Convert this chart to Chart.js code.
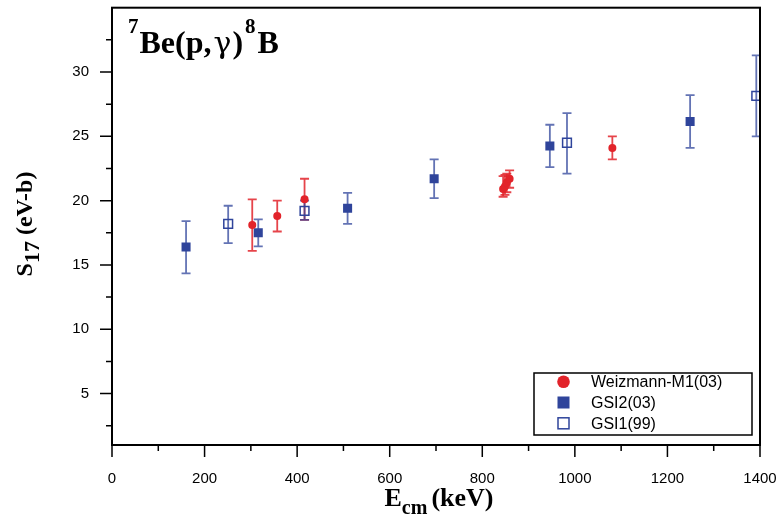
<!DOCTYPE html>
<html>
<head>
<meta charset="utf-8">
<script src="https://cdn.jsdelivr.net/npm/chart.js@4.4.1/dist/chart.umd.min.js"></script>
<style>
  html, body { margin: 0; padding: 0; background: #fff; }
  #wrap { width: 776px; height: 518px; }
</style>
</head>
<body>
<div id="wrap"><canvas id="s17-chart"></canvas></div>
<script>
// Weizmann-M1(03)
const weizE  = [303, 357, 416, 845, 849, 853, 859, 1081];
const weizS  = [18.1, 18.8, 20.1, 20.9, 21.1, 21.4, 21.7, 24.1];
const weizLo = [16.1, 17.6, 18.5, 20.3, 20.45, 20.65, 21.0, 23.2];
const weizHi = [20.1, 20.0, 21.7, 21.9, 22.0, 22.1, 22.35, 25.0];

// GSI2(03)
const gsi2E  = [160, 316, 509, 696, 946, 1249];
const gsi2S  = [16.4, 17.5, 19.4, 21.7, 24.25, 26.15];
const gsi2Lo = [14.35, 16.45, 18.2, 20.2, 22.6, 24.1];
const gsi2Hi = [18.4, 18.55, 20.6, 23.2, 25.9, 28.2];

// GSI1(99)
const gsi1E  = [251, 416, 983, 1392];
const gsi1S  = [18.2, 19.2, 24.5, 28.15];
const gsi1Lo = [16.7, 18.5, 22.1, 25.0];
const gsi1Hi = [19.6, 20.0, 26.8, 31.3];

// ticks
const xMajor = [0, 200, 400, 600, 800, 1000, 1200, 1400];
const xMinor = [100, 300, 500, 700, 900, 1100, 1300];
const yMajor = [5, 10, 15, 20, 25, 30];
const yMinor = [2.5, 7.5, 12.5, 17.5, 22.5, 27.5, 32.5];

const RED = "#e2232a";
const BLUE = "#2f449b";
const SERIF = '"Liberation Serif", "Times New Roman", serif';
const SANS = '"Liberation Sans", Arial, Helvetica, sans-serif';

function toPoints(xs, ys) {
    return xs.map((x, i) => ({ x: x, y: ys[i] }));
}

function drawRuns(ctx, x, y, runs) {
    runs.forEach((r) => {
        ctx.font = r.font;
        ctx.fillText(r.text, x, y + (r.dy || 0));
        x += ctx.measureText(r.text).width + (r.gap || 0);
    });
}

function runsWidth(ctx, runs) {
    let w = 0;
    runs.forEach((r) => {
        ctx.font = r.font;
        w += ctx.measureText(r.text).width + (r.gap || 0);
    });
    return w;
}

// chart.js adds label padding around the area; the frame here is fixed, so drop it
function noPad(scale) {
    scale.paddingTop = 0;
    scale.paddingBottom = 0;
    scale.paddingLeft = 0;
    scale.paddingRight = 0;
}

const decor = {
    id: "decor",
    beforeDatasetsDraw(chart) {
        const ctx = chart.ctx;
        const xs = chart.scales.x;
        const ys = chart.scales.y;
        ctx.save();
        chart.data.datasets.forEach((ds) => {
            ctx.strokeStyle = ds.errColor;
            ctx.lineWidth = 1.8;
            ds.data.forEach((p, i) => {
                const px = xs.getPixelForValue(p.x);
                const top = ys.getPixelForValue(ds.errHi[i]);
                const bot = ys.getPixelForValue(ds.errLo[i]);
                ctx.beginPath();
                ctx.moveTo(px, top);
                ctx.lineTo(px, bot);
                ctx.moveTo(px - 4.5, top);
                ctx.lineTo(px + 4.5, top);
                ctx.moveTo(px - 4.5, bot);
                ctx.lineTo(px + 4.5, bot);
                ctx.stroke();
            });
        });
        ctx.restore();
    },
    afterDraw(chart) {
        const ctx = chart.ctx;
        const a = chart.chartArea;
        const xs = chart.scales.x;
        const ys = chart.scales.y;
        ctx.save();

        // frame
        ctx.strokeStyle = "#000";
        ctx.lineWidth = 2;
        ctx.strokeRect(a.left, a.top, a.right - a.left, a.bottom - a.top);

        // tick marks
        ctx.lineWidth = 1.5;
        ctx.beginPath();
        xMajor.forEach((v) => {
            const px = xs.getPixelForValue(v);
            ctx.moveTo(px, a.bottom);
            ctx.lineTo(px, a.bottom + 12);
        });
        xMinor.forEach((v) => {
            const px = xs.getPixelForValue(v);
            ctx.moveTo(px, a.bottom);
            ctx.lineTo(px, a.bottom + 6);
        });
        yMajor.forEach((v) => {
            const py = ys.getPixelForValue(v);
            ctx.moveTo(a.left, py);
            ctx.lineTo(a.left - 12, py);
        });
        yMinor.forEach((v) => {
            const py = ys.getPixelForValue(v);
            ctx.moveTo(a.left, py);
            ctx.lineTo(a.left - 6, py);
        });
        ctx.stroke();

        ctx.fillStyle = "#000";
        ctx.textBaseline = "alphabetic";
        ctx.textAlign = "left";

        // reaction label
        drawRuns(ctx, 128, 53, [
            { text: "7", font: "bold 21px " + SERIF, dy: -20, gap: 1 },
            { text: "Be(p,", font: "bold 32px " + SERIF, gap: 2 },
            { text: "γ", font: "30px \"DejaVu Serif\", serif", gap: 1 },
            { text: ")", font: "bold 32px " + SERIF, gap: 2 },
            { text: "8", font: "bold 21px " + SERIF, dy: -20, gap: 2 },
            { text: "B", font: "bold 32px " + SERIF },
        ]);

        // x title
        const xRuns = [
            { text: "E", font: "bold 26px " + SERIF },
            { text: "cm", font: "bold 20px " + SERIF, dy: 8, gap: 4 },
            { text: "(keV)", font: "bold 26px " + SERIF },
        ];
        drawRuns(ctx, 439 - runsWidth(ctx, xRuns) / 2, 506, xRuns);

        // y title
        const yRuns = [
            { text: "S", font: "bold 24px " + SERIF },
            { text: "17", font: "bold 22px " + SERIF, dy: 7, gap: 6 },
            { text: "(eV-b)", font: "bold 24px " + SERIF },
        ];
        ctx.save();
        ctx.translate(32, 224);
        ctx.rotate(-Math.PI / 2);
        drawRuns(ctx, -runsWidth(ctx, yRuns) / 2, 0, yRuns);
        ctx.restore();

        // legend
        ctx.lineWidth = 1.5;
        ctx.strokeStyle = "#000";
        ctx.strokeRect(534, 373, 218, 62);
        ctx.font = "16px " + SANS;
        ctx.textBaseline = "middle";
        const rows = [381.7, 402.5, 423.3];
        chart.data.datasets.forEach((ds, i) => {
            const cy = rows[i];
            const cx = 563.5;
            ctx.fillStyle = "#000";
            ctx.fillText(ds.label, 591, cy + 1);
            if (ds.pointStyle === "circle") {
                ctx.fillStyle = ds.backgroundColor;
                ctx.beginPath();
                ctx.arc(cx, cy, 6.3, 0, Math.PI * 2);
                ctx.fill();
            } else if (ds.backgroundColor !== "transparent") {
                ctx.fillStyle = ds.backgroundColor;
                ctx.fillRect(cx - 6, cy - 6, 12, 12);
            } else {
                ctx.strokeStyle = ds.borderColor;
                ctx.lineWidth = 1.5;
                ctx.strokeRect(cx - 5.5, cy - 5.5, 11, 11);
            }
        });

        ctx.restore();
    },
};

const ctxS17 = document.querySelector("#s17-chart").getContext("2d");

const chartS17 = new Chart(ctxS17, {
    type: "scatter",
    data: {
        datasets: [
            {
                label: "Weizmann-M1(03)",
                data: toPoints(weizE, weizS),
                errLo: weizLo,
                errHi: weizHi,
                errColor: "rgba(226, 35, 42, 0.85)",
                pointStyle: "circle",
                pointRadius: 4,
                backgroundColor: RED,
                borderColor: RED,
                borderWidth: 0,
            },
            {
                label: "GSI2(03)",
                data: toPoints(gsi2E, gsi2S),
                errLo: gsi2Lo,
                errHi: gsi2Hi,
                errColor: "rgba(47, 68, 155, 0.75)",
                pointStyle: "rect",
                pointRadius: 6.4,
                backgroundColor: BLUE,
                borderColor: BLUE,
                borderWidth: 0,
            },
            {
                label: "GSI1(99)",
                data: toPoints(gsi1E, gsi1S),
                errLo: gsi1Lo,
                errHi: gsi1Hi,
                errColor: "rgba(47, 68, 155, 0.75)",
                pointStyle: "rect",
                pointRadius: 6.2,
                backgroundColor: "transparent",
                borderColor: BLUE,
                borderWidth: 1.5,
            },
        ],
    },
    options: {
        responsive: true,
        maintainAspectRatio: false,
        animation: false,
        layout: {
            padding: { left: 0, right: 16, top: 5, bottom: 0 },
        },
        scales: {
            x: {
                type: "linear",
                min: 0,
                max: 1400,
                grid: { display: false, drawTicks: false },
                border: { display: false },
                ticks: {
                    color: "#000",
                    padding: 25,
                    maxRotation: 0,
                    font: { family: SANS, size: 15 },
                    callback: (v) => String(v),
                },
                afterBuildTicks: (scale) => {
                    scale.ticks = xMajor.map((v) => ({ value: v }));
                },
                afterFit: (scale) => {
                    scale.height = 73;
                    noPad(scale);
                },
            },
            y: {
                type: "linear",
                min: 1,
                max: 35,
                grid: { display: false, drawTicks: false },
                border: { display: false },
                ticks: {
                    color: "#000",
                    padding: 23,
                    font: { family: SANS, size: 15 },
                    callback: (v) => String(v),
                },
                afterBuildTicks: (scale) => {
                    scale.ticks = yMajor.map((v) => ({ value: v }));
                },
                afterFit: (scale) => {
                    scale.width = 112;
                    noPad(scale);
                },
            },
        },
        plugins: {
            legend: { display: false },
            tooltip: { enabled: false },
        },
    },
    plugins: [decor],
});
</script>
</body>
</html>
